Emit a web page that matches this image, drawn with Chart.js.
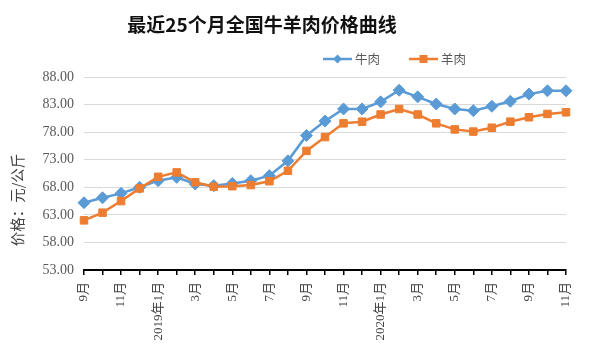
<!DOCTYPE html>
<html>
<head>
<meta charset="utf-8">
<script src="https://cdn.jsdelivr.net/npm/chart.js@4/dist/chart.umd.min.js"></script>
<style>
html,body{margin:0;padding:0;background:#fff;}
#c{display:block;}
</style>
</head>
<body>
<canvas id="c" width="600" height="357"></canvas>
<script>
const chartTitle = '最近25个月全国牛羊肉价格曲线';
const yAxisTitle = '价格：元/公斤';
const categories = ['9月','10月','11月','12月','2019年1月','2月','3月','4月','5月','6月','7月','8月','9月','10月','11月','12月','2020年1月','2月','3月','4月','5月','6月','7月','8月','9月','10月','11月'];
const seriesNames = ['牛肉','羊肉'];
const beef   = [65.2,66.1,66.9,68.0,69.2,69.8,68.6,68.3,68.7,69.2,70.1,72.8,77.4,80.0,82.2,82.2,83.5,85.6,84.4,83.1,82.2,81.9,82.7,83.6,84.9,85.5,85.5];
const mutton = [62.0,63.4,65.5,67.8,69.9,70.7,68.9,68.1,68.2,68.4,69.1,71.0,74.6,77.1,79.6,79.9,81.2,82.2,81.2,79.6,78.5,78.1,78.8,79.9,80.7,81.3,81.6];
const yMin = 53, yMax = 88, yStep = 5;

const BLUE = '#5B9BD5', ORANGE = '#ED7D31';
const serifFont = "'Liberation Serif', 'Noto Sans CJK SC', serif";
const cjkFont = "'Noto Sans CJK SC', sans-serif";

const decor = {
  id: 'decor',
  afterDraw(chart) {
    const ctx = chart.ctx;
    ctx.save();
    ctx.fillStyle = '#111';
    ctx.font = "bold 19px " + cjkFont;
    ctx.textAlign = 'center';
    ctx.textBaseline = 'middle';
    ctx.fillText(chartTitle, 262, 25);
    ctx.save();
    ctx.translate(17, 200);
    ctx.rotate(-Math.PI / 2);
    ctx.fillStyle = '#404040';
    ctx.font = "14.5px " + cjkFont;
    ctx.fillText(yAxisTitle, 0, 0);
    ctx.restore();
    const items = [
      {name: seriesNames[0], color: BLUE, x0: 323, style: 'diamond', tx: 355},
      {name: seriesNames[1], color: ORANGE, x0: 409, style: 'square', tx: 441}
    ];
    const ly = 59;
    items.forEach(it => {
      ctx.strokeStyle = it.color;
      ctx.lineWidth = 2.5;
      ctx.beginPath();
      ctx.moveTo(it.x0, ly);
      ctx.lineTo(it.x0 + 29, ly);
      ctx.stroke();
      const cx = it.x0 + 14.5;
      ctx.fillStyle = it.color;
      ctx.beginPath();
      if (it.style === 'diamond') {
        ctx.moveTo(cx - 4.5, ly); ctx.lineTo(cx, ly - 4.5); ctx.lineTo(cx + 4.5, ly); ctx.lineTo(cx, ly + 4.5);
        ctx.closePath();
      } else {
        ctx.rect(cx - 4, ly - 4, 8, 8);
      }
      ctx.fill();
      ctx.fillStyle = '#595959';
      ctx.font = "12.5px " + cjkFont;
      ctx.textAlign = 'left';
      ctx.textBaseline = 'middle';
      ctx.fillText(it.name, it.tx, ly);
    });
    ctx.restore();
  }
};

new Chart(document.getElementById('c'), {
  type: 'line',
  data: {
    labels: categories,
    datasets: [
      {
        label: seriesNames[0], data: beef, borderColor: BLUE, backgroundColor: BLUE,
        borderWidth: 2.5, pointStyle: 'rectRot', pointRadius: 6, pointBorderWidth: 1,
        pointBackgroundColor: BLUE, pointBorderColor: BLUE, tension: 0, order: 2
      },
      {
        label: seriesNames[1], data: mutton, borderColor: ORANGE, backgroundColor: ORANGE,
        borderWidth: 2.5, pointStyle: 'rect', pointRadius: 5.3, pointBorderWidth: 1,
        pointBackgroundColor: ORANGE, pointBorderColor: ORANGE, tension: 0, order: 1
      }
    ]
  },
  options: {
    responsive: false,
    animation: false,
    devicePixelRatio: 1,
    layout: { padding: { top: 77, right: 34, left: 0, bottom: 0 } },
    plugins: { legend: { display: false }, title: { display: false }, tooltip: { enabled: false } },
    scales: {
      x: {
        offset: false,
        grid: { display: true, drawOnChartArea: false, drawTicks: true, tickLength: 5, color: '#000', lineWidth: 1.5 },
        border: { display: true, color: '#000', width: 2 },
        ticks: {
          autoSkip: false, maxRotation: 90, minRotation: 90, padding: 7,
          color: '#404040', font: { family: serifFont, size: 13 },
          callback: function(v, i) { return i % 2 === 0 ? this.getLabelForValue(v) : ''; }
        },
        afterFit(scale) { scale.height = 87; scale.paddingLeft = 0; scale.paddingRight = 0; }
      },
      y: {
        min: yMin, max: yMax,
        grid: { color: '#d9d9d9', lineWidth: 1, drawTicks: false },
        border: { display: false },
        ticks: {
          stepSize: yStep, padding: 10, color: '#595959',
          font: { family: serifFont, size: 14 },
          callback: v => Number(v).toFixed(2)
        },
        afterFit(scale) { scale.width = 84; scale.paddingTop = 0; scale.paddingBottom = 0; }
      }
    }
  },
  plugins: [decor]
});
</script>
</body>
</html>
